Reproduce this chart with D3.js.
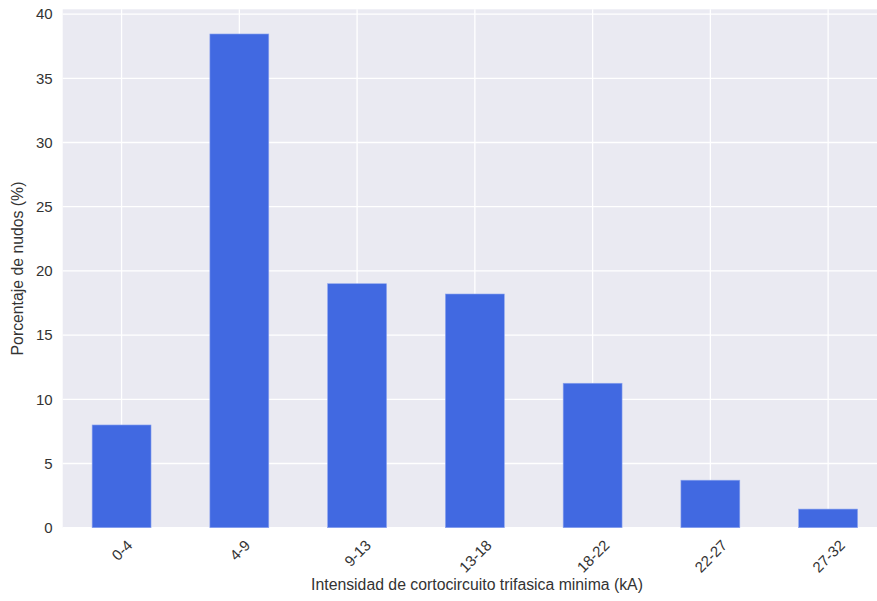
<!DOCTYPE html>
<html><head><meta charset="utf-8">
<script src="https://cdn.jsdelivr.net/npm/d3@7"></script>
<style>body{margin:0;background:#fff;} svg{display:block;font-family:"Liberation Sans",Arial,sans-serif;}</style>
</head><body>
<svg id="c" width="877" height="601"></svg>
<script>
const categories = ["0-4","4-9","9-13","13-18","18-22","22-27","27-32"];
const values = [8.0, 38.45, 19.0, 18.2, 11.25, 3.7, 1.45];
const yTicks = [0,5,10,15,20,25,30,35,40];

const svg = d3.select("#c");
const m = {left:62.7, top:9.3, right:887, bottom:527.7};
const n = categories.length;
const txt = "#333333";
const fs = 15;
const x = d3.scaleLinear().domain([-0.5, n-0.5]).range([m.left, m.right]);
const y = d3.scaleLinear().domain([0, d3.max(values)*1.05]).range([m.bottom, m.top]);

svg.append("rect").attr("x",m.left).attr("y",m.top).attr("width",m.right-m.left).attr("height",m.bottom-m.top).attr("fill","#EAEAF2");

const g = svg.append("g");
g.selectAll("line.hg").data(yTicks).enter().append("line")
 .attr("x1",m.left).attr("x2",m.right).attr("y1",d=>y(d)).attr("y2",d=>y(d))
 .attr("stroke","#fff").attr("stroke-width",1.3);
g.selectAll("line.vg").data(categories).enter().append("line")
 .attr("y1",m.top).attr("y2",m.bottom).attr("x1",(d,i)=>x(i)).attr("x2",(d,i)=>x(i))
 .attr("stroke","#fff").attr("stroke-width",1.3);

g.selectAll("rect.bar").data(values).enter().append("rect")
 .attr("x",(d,i)=>x(i-0.25)).attr("width",(d,i)=>x(i+0.25)-x(i-0.25))
 .attr("y",d=>y(d)).attr("height",d=>y(0)-y(d))
 .attr("fill","#4169E1").attr("stroke","#8ba3ee").attr("stroke-width",0.6);

const yAxis = svg.append("g").attr("transform",`translate(${m.left},0)`)
 .call(d3.axisLeft(y).tickValues(yTicks).tickSize(0).tickPadding(10));
yAxis.select(".domain").remove();
yAxis.selectAll("text").attr("font-size",fs).attr("fill",txt).attr("font-family","Liberation Sans, Arial, sans-serif");

const xs = d3.scalePoint().domain(categories).range([x(0),x(n-1)]);
const xAxis = svg.append("g").attr("transform",`translate(0,${m.bottom})`)
 .call(d3.axisBottom(xs).tickSize(0).tickPadding(0));
xAxis.select(".domain").remove();
xAxis.selectAll("text").attr("font-size",fs).attr("fill",txt)
 .attr("font-family","Liberation Sans, Arial, sans-serif")
 .attr("text-anchor","middle").attr("y",0).attr("dy","0.35em")
 .each(function(){
   const w = this.getComputedTextLength();
   const h = fs*1.1;
   const cy = 9 + (w + h)/(2*Math.SQRT2);
   d3.select(this).attr("transform",`translate(0,${cy}) rotate(-45)`);
 });

svg.append("text").attr("x",477).attr("y",590)
 .attr("text-anchor","middle").attr("font-size",15.8).attr("fill",txt)
 .text("Intensidad de cortocircuito trifasica minima (kA)");
svg.append("text").attr("transform",`translate(23,${(m.top+m.bottom)/2}) rotate(-90)`)
 .attr("text-anchor","middle").attr("font-size",15.8).attr("fill",txt)
 .text("Porcentaje de nudos (%)");
</script>
</body></html>
